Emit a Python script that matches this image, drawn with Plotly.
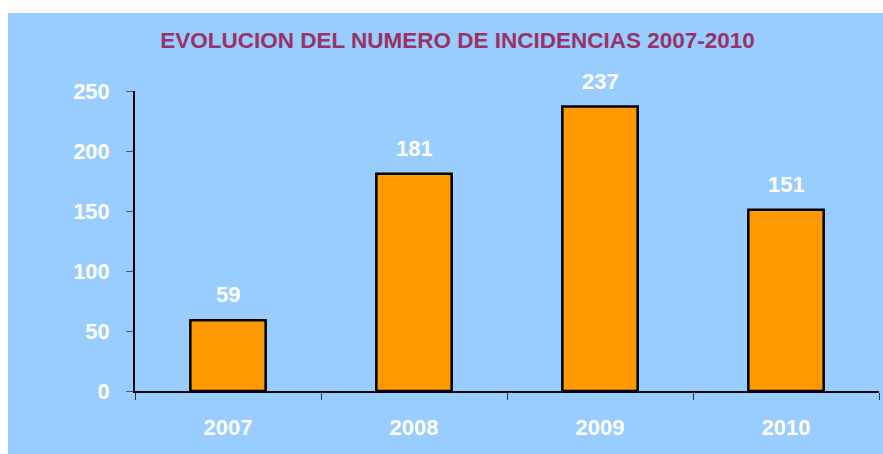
import plotly.graph_objects as go

years = ["2007", "2008", "2009", "2010"]
incidencias = [59, 181, 237, 151]
y_ticks = [0, 50, 100, 150, 200, 250]
title_text = "EVOLUCION DEL NUMERO DE INCIDENCIAS 2007-2010"

BLUE = "#99CCFF"
ORANGE = "#FF9900"
TITLE_COLOR = "#993366"
FONT = "Liberation Sans, Arial, sans-serif"

fig = go.Figure()
fig.add_trace(go.Bar(
    x=years, y=incidencias,
    marker=dict(color=ORANGE, line=dict(color="black", width=2.5)),
    width=0.405,
    hoverinfo="skip",
))

for i, v in enumerate(incidencias):
    fig.add_annotation(x=i, y=v, text=f"<b>{v}</b>", showarrow=False,
                       yanchor="bottom", yshift=11,
                       font=dict(family=FONT, size=22, color="white"))

fig.update_layout(
    width=883, height=454,
    margin=dict(l=135, r=4, t=91, b=63, autoexpand=False),
    paper_bgcolor="white",
    plot_bgcolor=BLUE,
    showlegend=False,
    title=dict(text=f"<b>{title_text}</b>", x=(160 + 755) / 2 / 883, xanchor="center",
               y=1 - 40 / 454, yanchor="middle",
               font=dict(family=FONT, size=22.5, color=TITLE_COLOR)),
    shapes=[dict(type="rect", xref="paper", yref="paper",
                 x0=(8 - 135) / 744, x1=(883 - 135) / 744 + 0.01,
                 y0=-63 / 300 - 0.01, y1=(454 - 13 - 63) / 300,
                 fillcolor=BLUE, line=dict(width=0), layer="below")],
    xaxis=dict(
        type="category", range=[-0.5, len(years) - 0.5],
        showline=True, linecolor="black", linewidth=1.5,
        ticks="outside", tickson="boundaries", ticklen=7, tickcolor="#333333", tickwidth=1,
        tickfont=dict(family=FONT, size=22, color="white"),
        tickvals=years, ticktext=[f"<b>{y}</b>" for y in years],
        ticklabelstandoff=16,
        showgrid=False, zeroline=False,
    ),
    yaxis=dict(
        range=[0, 250], tickvals=y_ticks,
        ticktext=[f"<b>{t}</b>" for t in y_ticks],
        showline=True, linecolor="black", linewidth=1.5,
        ticks="outside", ticklen=7, tickcolor="#555555", tickwidth=1,
        tickfont=dict(family=FONT, size=22, color="white"),
        ticklabelstandoff=12,
        showgrid=False, zeroline=False,
    ),
)

fig.write_html("out.html", post_script="document.body.style.margin='0';",
               config={"displayModeBar": False})
